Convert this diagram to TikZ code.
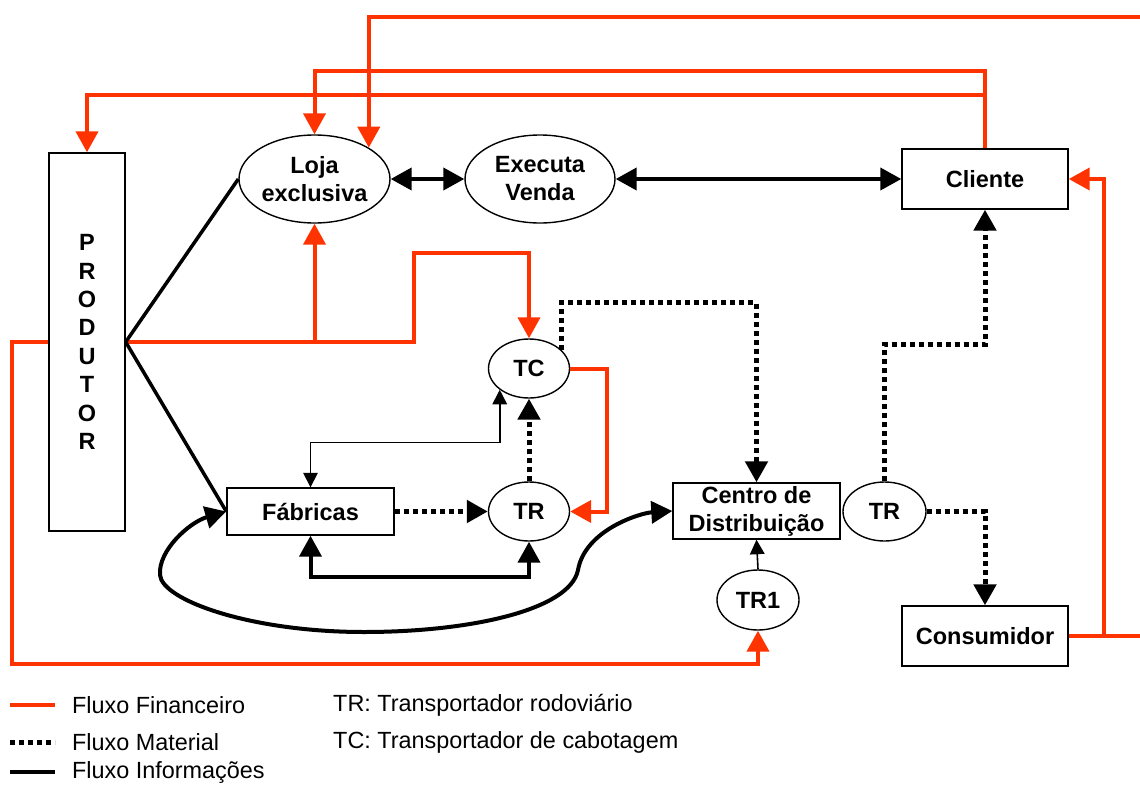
\documentclass[tikz,border=0pt]{standalone}
\usepackage{fontspec}
\setmainfont{Liberation Sans}
\usetikzlibrary{arrows.meta,shapes.geometric}
\definecolor{finred}{RGB}{255,51,0}
\tikzset{
  box/.style={draw=black,line width=1.4pt,rectangle,inner sep=0pt,font=\fontsize{23.5}{28}\selectfont\bfseries,align=center},
  oval/.style={draw=black,line width=1.4pt,ellipse,inner sep=0pt,font=\fontsize{23.5}{28}\selectfont\bfseries,align=center},
  bighead/.style={-{Triangle[length=21pt,width=22pt]}},
  bothheads/.style={{Triangle[length=21pt,width=22pt]}-{Triangle[length=21pt,width=22pt]}},
  fin/.style={draw=finred,line width=4pt},
  mat/.style={draw=black,line width=5pt,dash pattern=on 5pt off 4pt},
  info/.style={draw=black,line width=4pt},
  infothin/.style={draw=black,line width=1.6pt},
  smallhead/.style={-{Triangle[length=14.5pt,width=14.5pt]}},
  smallboth/.style={{Triangle[length=14.5pt,width=14.5pt]}-{Triangle[length=14.5pt,width=14.5pt]}},
  legend/.style={anchor=west,inner sep=0pt,font=\fontsize{23.4}{28}\selectfont}
}
\begin{document}
\begin{tikzpicture}[x=1pt,y=-1pt]
\useasboundingbox (0,0) rectangle (1140,787);

% nodes
\node[box,minimum width=76pt,minimum height=378pt,font=\fontsize{23.5}{28.4}\selectfont\bfseries] (prod) at (87,342) {P\\R\\O\\D\\U\\T\\O\\R};
\node[oval,minimum width=151pt,minimum height=88pt] (loja) at (314.5,179) {Loja\\exclusiva};
\node[oval,minimum width=150pt,minimum height=88pt] (exec) at (540,179) {Executa\\Venda};
\node[box,minimum width=166pt,minimum height=60pt] (cli) at (985,179) {Cliente};
\node[oval,minimum width=81pt,minimum height=59pt] (tc) at (529,368.5) {TC};
\node[oval,minimum width=81pt,minimum height=59pt] (tr) at (529,511.5) {TR};
\node[box,minimum width=167pt,minimum height=47pt] (fab) at (310.5,511.5) {Fábricas};
\node[box,minimum width=167pt,minimum height=56pt] (cd) at (756.5,511) {Centro de\\Distribuição};
\node[oval,minimum width=83pt,minimum height=59pt] (tr2) at (884.5,511.5) {TR};
\node[oval,minimum width=82pt,minimum height=60pt] (tr1) at (758,600) {TR1};
\node[box,minimum width=166pt,minimum height=60pt] (cons) at (985,636) {Consumidor};

% free ends and junctions of the financial flow
\coordinate (topR) at (1140,17);
\coordinate (consR) at (1140,636);
\coordinate (jR) at (1104,636);

% financial flow
\draw[fin,bighead] (topR) -| (loja.30);
\draw[fin,bighead] (cli.north) -- ++(0,-77) -| (loja.north);
\draw[fin,bighead] (cli.north) ++(0,-53) -| (prod.north);
\draw[fin] (cons.east) -- (consR);
\draw[fin,bighead] (jR) |- (cli.east);
\draw[fin,bighead] (prod.east) -| (loja.south);
\draw[fin,bighead] (prod.east) -- ++(288,0) -- ++(0,-89) -| (tc.north);
\draw[fin,bighead] (prod.west) -- ++(-36,0) -- ++(0,322) -| (tr1.south);
\draw[fin,bighead] (tc.east) -- ++(37,0) |- (tr.east);

% material flow
\draw[mat,bighead] (fab.east) -- (tr.west);
\draw[mat,bighead] (tr.north) -- (tc.south);
\draw[mat,bighead] (tc.30) -- ++(0,-47) -| (cd.north);
\draw[mat,bighead] (tr2.north) -- ++(0,-137) -| (cli.south);
\draw[mat,bighead] (tr2.east) -| (cons.north);

% information flow
\draw[info,bothheads] (loja) -- (exec);
\draw[info,bothheads] (exec) -- (cli);
\draw[info,line width=3.5pt] (prod.east) -- (loja.west);
\draw[info,line width=3.5pt] (prod.east) -- (fab.west);
\draw[info,bothheads] (fab.south) -- ++(0,41) -| (tr.south);
\draw[infothin,smallboth] (fab.north) -- ++(0,-45) -| (tc.216);
\draw[infothin,smallhead] (tr1.north) -- (cd.south);
\draw[info,bothheads] (fab.west) .. controls (190,522) and (158,550) .. (160,575)
  .. controls (162,600) and (250,632) .. (364,632)
  .. controls (470,632) and (570,610) .. (578,570)
  .. controls (585,530) and (640,513) .. (cd.west);

% legend
\coordinate (l1a) at (10,705); \coordinate (l1b) at (55,705);
\coordinate (l2a) at (10,742); \coordinate (l2b) at (55,742);
\coordinate (l3a) at (10,772); \coordinate (l3b) at (55,772);
\draw[fin] (l1a) -- (l1b);
\draw[mat] (l2a) -- (l2b);
\draw[info] (l3a) -- (l3b);
\node[legend] (t1) at (72,705) {Fluxo Financeiro};
\node[legend] (t2) at (72,742) {Fluxo Material};
\node[legend] (t3) at (72,772) {Fluxo Informações};
\node[legend] (t4) at (333,705) {TR: Transportador rodoviário};
\node[legend] (t5) at (333,742) {TC: Transportador de cabotagem};
\end{tikzpicture}
\end{document}
